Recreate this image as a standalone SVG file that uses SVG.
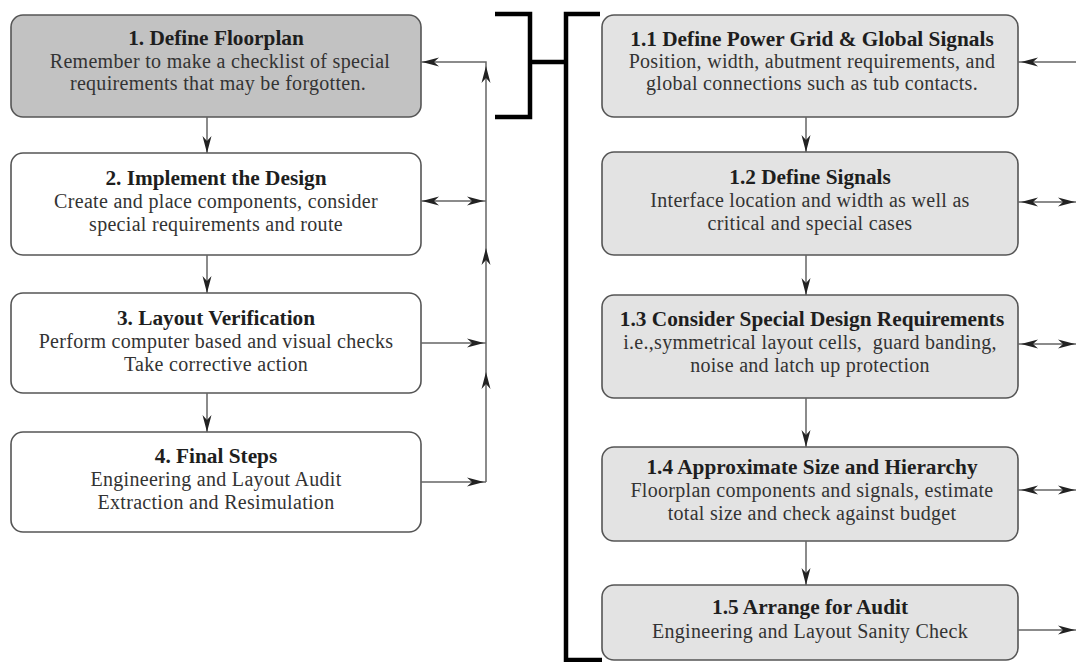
<svg xmlns="http://www.w3.org/2000/svg" width="1076" height="662" viewBox="0 0 1076 662">
<style>
.box{stroke:#555;stroke-width:1.6}
.w{fill:#fff}.d{fill:#c2c2c2}.l{fill:#e3e3e3}
text{font-family:"Liberation Serif","Times New Roman",serif;text-anchor:middle;fill:#1e1e1e;white-space:pre}
.t{font-weight:bold;font-size:21.3px}
.b{font-size:20px;letter-spacing:0.3px;fill:#333}
.ln{stroke:#666;stroke-width:1.5;fill:none}
.br{stroke:#000;stroke-width:4.5;fill:none}
.ah{fill:#222}
</style>
<defs>
<path id="aR" d="M0,0 L-17,-4.5 L-12,0 L-17,4.5 Z"/>
</defs>
<rect width="1076" height="662" fill="#fff"/>
<g id="n1"><rect class="box d" x="11" y="15" width="410" height="102" rx="12"/>
<text class="t" x="216" y="45">1. Define Floorplan</text>
<text class="b" x="220" y="68">Remember to make a checklist of special</text>
<text class="b" x="218" y="90">requirements that may be forgotten.</text></g>
<g id="n2"><rect class="box w" x="11" y="153" width="410" height="102" rx="12"/>
<text class="t" x="216" y="185">2. Implement the Design</text>
<text class="b" x="216" y="208">Create and place components, consider</text>
<text class="b" x="216" y="231">special requirements and route</text></g>
<g id="n3"><rect class="box w" x="11" y="293" width="410" height="100" rx="12"/>
<text class="t" x="216" y="325">3. Layout Verification</text>
<text class="b" x="216" y="348">Perform computer based and visual checks</text>
<text class="b" x="216" y="371">Take corrective action</text></g>
<g id="n4"><rect class="box w" x="11" y="432" width="410" height="100" rx="12"/>
<text class="t" x="216" y="463">4. Final Steps</text>
<text class="b" x="216" y="486">Engineering and Layout Audit</text>
<text class="b" x="216" y="509">Extraction and Resimulation</text></g>
<g id="n11"><rect class="box l" x="602" y="15" width="416" height="102" rx="12"/>
<text class="t" x="812" y="46">1.1 Define Power Grid &amp; Global Signals</text>
<text class="b" x="812" y="68">Position, width, abutment requirements, and</text>
<text class="b" x="812" y="90">global connections such as tub contacts.</text></g>
<g id="n12"><rect class="box l" x="602" y="152" width="416" height="103" rx="12"/>
<text class="t" x="810" y="184">1.2 Define Signals</text>
<text class="b" x="810" y="207">Interface location and width as well as</text>
<text class="b" x="810" y="230">critical and special cases</text></g>
<g id="n13"><rect class="box l" x="602" y="295" width="416" height="103" rx="12"/>
<text class="t" x="812" y="326">1.3 Consider Special Design Requirements</text>
<text class="b" x="810" y="349">i.e.,symmetrical layout cells,  guard banding,</text>
<text class="b" x="810" y="372">noise and latch up protection</text></g>
<g id="n14"><rect class="box l" x="602" y="447" width="416" height="94" rx="12"/>
<text class="t" x="812" y="474">1.4 Approximate Size and Hierarchy</text>
<text class="b" x="812" y="497">Floorplan components and signals, estimate</text>
<text class="b" x="812" y="520">total size and check against budget</text></g>
<g id="n15"><rect class="box l" x="602" y="585" width="416" height="75" rx="12"/>
<text class="t" x="810" y="614">1.5 Arrange for Audit</text>
<text class="b" x="810" y="638">Engineering and Layout Sanity Check</text></g>
<g id="connectors">
<path class="br" d="M495,14 H530 V117 H495 M530,62 H566 M600,14 H566 V660 H602"/>
<path class="ln" d="M207,117 V153 M207,255 V293 M207,393 V432 M806,117 V152 M806,255 V295 M806,398 V447 M806,541 V585"/>
<use href="#aR" class="ah" transform="translate(207,153) rotate(90)"/>
<use href="#aR" class="ah" transform="translate(207,293) rotate(90)"/>
<use href="#aR" class="ah" transform="translate(207,432) rotate(90)"/>
<use href="#aR" class="ah" transform="translate(806,152) rotate(90)"/>
<use href="#aR" class="ah" transform="translate(806,295) rotate(90)"/>
<use href="#aR" class="ah" transform="translate(806,447) rotate(90)"/>
<use href="#aR" class="ah" transform="translate(806,585) rotate(90)"/>
<path class="ln" d="M486,482 V62 H421 M421,201 H486 M421,343 H486 M421,482 H486"/>
<use href="#aR" class="ah" transform="translate(422,62) rotate(180)"/>
<use href="#aR" class="ah" transform="translate(486,66) rotate(-90)"/>
<use href="#aR" class="ah" transform="translate(486,248) rotate(-90)"/>
<use href="#aR" class="ah" transform="translate(486,372) rotate(-90)"/>
<use href="#aR" class="ah" transform="translate(422,201) rotate(180)"/>
<use href="#aR" class="ah" transform="translate(484,201)"/>
<use href="#aR" class="ah" transform="translate(484,343)"/>
<use href="#aR" class="ah" transform="translate(484,482)"/>
<path class="ln" d="M1018,62 H1076 M1018,202 H1076 M1018,344 H1076 M1018,490 H1076 M1018,630 H1076"/>
<use href="#aR" class="ah" transform="translate(1021,62) rotate(180)"/>
<use href="#aR" class="ah" transform="translate(1021,202) rotate(180)"/>
<use href="#aR" class="ah" transform="translate(1075,202)"/>
<use href="#aR" class="ah" transform="translate(1021,344) rotate(180)"/>
<use href="#aR" class="ah" transform="translate(1075,344)"/>
<use href="#aR" class="ah" transform="translate(1021,490) rotate(180)"/>
<use href="#aR" class="ah" transform="translate(1075,490)"/>
<use href="#aR" class="ah" transform="translate(1075,630)"/>
</g>
</svg>
